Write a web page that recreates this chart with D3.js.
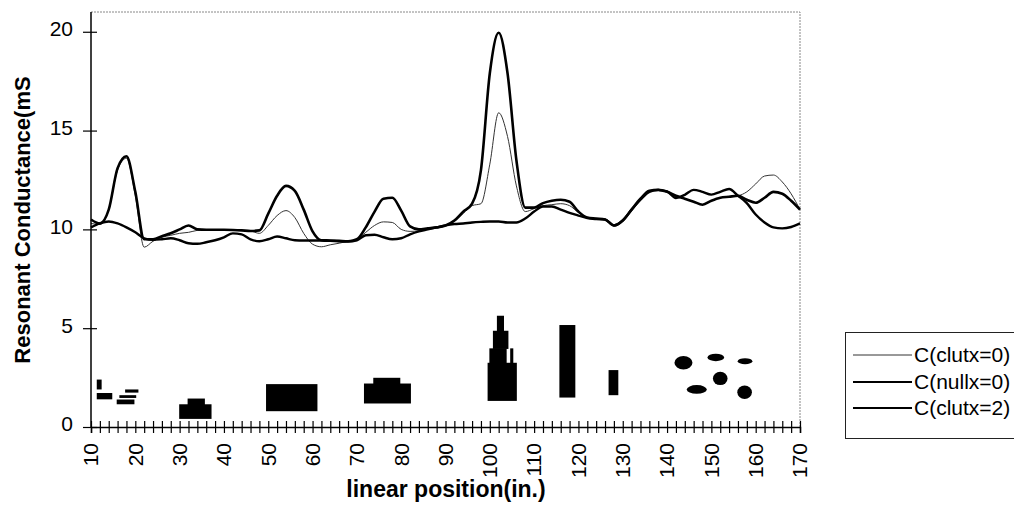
<!DOCTYPE html>
<html>
<head>
<meta charset="utf-8">
<script src="https://cdn.jsdelivr.net/npm/d3@7/dist/d3.min.js"></script>
<style>
  html, body { margin: 0; padding: 0; background: #fff; }
  svg { display: block; }
  text { font-family: "Liberation Sans", Arial, sans-serif; fill: #000; }
</style>
</head>
<body>
<svg id="chart" width="1014" height="512"></svg>
<script>
// ---------- data ----------
const xPos = d3.range(10, 171, 2);

const seriesNames = ["C(clutx=0)", "C(nullx=0)", "C(clutx=2)"];

const clutx0 = [
  10.3, 10.25, 11.0, 13.0, 13.6, 11.7, 9.1, 9.4, 9.6, 9.7,
  9.8, 9.85, 9.95, 9.98, 9.98, 9.98, 9.97, 9.95, 9.92, 9.8,
  10.2, 10.7, 10.95, 10.6, 9.8, 9.25, 9.12, 9.22, 9.3, 9.4,
  9.5, 9.85, 10.2, 10.38, 10.35, 10.0, 9.9, 9.92, 10.0, 10.1,
  10.2, 10.4, 10.8, 11.2, 11.3, 13.3, 15.9, 14.7, 12.2, 10.9,
  11.05, 11.2, 11.25, 11.3, 11.2, 10.85, 10.6, 10.55, 10.5, 10.2,
  10.45, 11.0, 11.55, 11.95, 12.0, 11.9, 11.7, 11.55, 11.4, 11.25,
  11.45, 11.6, 11.65, 11.7, 11.9, 12.3, 12.7, 12.75, 12.4, 11.8,
  11.0
];

const nullx0 = [
  10.5, 10.3, 11.0, 13.1, 13.7, 11.9, 9.5, 9.5, 9.65, 9.8,
  10.0, 10.2, 10.0, 9.98, 9.98, 9.98, 9.97, 9.95, 9.92, 9.95,
  10.8, 11.7, 12.2, 11.95, 11.0, 9.9, 9.45, 9.44, 9.42, 9.4,
  9.5, 10.1, 10.9, 11.55, 11.6, 10.95, 10.15, 10.0, 10.05, 10.1,
  10.2, 10.45, 10.9, 11.3, 13.0, 17.9, 19.95, 17.9, 13.5, 11.1,
  11.1, 11.33, 11.45, 11.5, 11.4, 10.9, 10.6, 10.55, 10.5, 10.2,
  10.45, 11.0, 11.55, 11.95, 12.0, 11.9, 11.7, 11.55, 11.4, 11.25,
  11.45, 11.6, 11.65, 11.7, 11.5, 11.35, 11.6, 11.9, 11.8, 11.45,
  11.0
];

const clutx2 = [
  10.1, 10.3, 10.4, 10.3, 10.1, 9.85, 9.55, 9.47, 9.5, 9.55,
  9.45, 9.3, 9.27, 9.35, 9.45, 9.6, 9.8, 9.75, 9.5, 9.4,
  9.5, 9.64, 9.55, 9.45, 9.44, 9.44, 9.43, 9.42, 9.4, 9.39,
  9.45, 9.7, 9.73, 9.6, 9.5, 9.55, 9.75, 9.9, 10.0, 10.1,
  10.2, 10.27, 10.3, 10.35, 10.38, 10.4, 10.4, 10.35, 10.35, 10.55,
  10.9, 11.16, 11.16, 11.0, 10.83, 10.7, 10.57, 10.52, 10.5, 10.2,
  10.45, 11.0, 11.5, 11.9, 12.0, 11.92, 11.59, 11.75, 12.0, 11.9,
  11.76, 11.9, 12.04, 11.7, 11.33, 10.75, 10.35, 10.1, 10.05, 10.12,
  10.3
];

// black target blocks drawn on the chart: [x0, x1, y0, y1]
const blockRects = [
  [11.3, 12.4, 1.9, 2.4],
  [11.3, 14.8, 1.4, 1.72],
  [15.8, 19.8, 1.15, 1.39],
  [16.4, 20.2, 1.47, 1.61],
  [17.7, 20.7, 1.74, 1.9],
  [29.9, 37.2, 0.41, 1.15],
  [31.8, 35.7, 1.1, 1.44],
  [49.5, 61.1, 0.8, 2.17],
  [71.6, 82.2, 1.19, 2.2],
  [73.7, 79.8, 2.15, 2.49],
  [99.5, 106.1, 1.32, 3.25],
  [99.9, 103.8, 3.2, 3.98],
  [104.6, 105.3, 3.2, 3.98],
  [100.7, 104.2, 3.95, 4.87],
  [101.6, 103.2, 4.85, 5.63],
  [115.7, 119.3, 1.49, 5.16],
  [126.8, 129.0, 1.61, 2.88]
];

// ellipses: [cx, cy, rx, ry] in data units
const blockEllipses = [
  [143.7, 3.25, 2.03, 0.34],
  [151.0, 3.52, 1.88, 0.19],
  [157.6, 3.33, 1.65, 0.15],
  [152.0, 2.46, 1.65, 0.34],
  [146.7, 1.9, 2.26, 0.22],
  [157.5, 1.76, 1.65, 0.34]
];

const xMajorTicks = d3.range(10, 171, 10);
const xMinorTicks = d3.range(10, 171, 2);
const yTicks = [0, 5, 10, 15, 20];

// ---------- chart ----------
const svg = d3.select("#chart");
const x = d3.scaleLinear().domain([10, 170]).range([91, 800]);
const y = d3.scaleLinear().domain([0, 21]).range([427, 12]);

svg.append("rect").attr("width", 1014).attr("height", 512).attr("fill", "#fff");

// frame top/right (light dotted)
svg.append("path")
  .attr("d", `M${x(10)},${y(21)}H${x(170)}V${y(0)}`)
  .attr("fill", "none").attr("stroke", "#888").attr("stroke-width", 1)
  .attr("stroke-dasharray", "2,1");

// blocks
svg.append("g").selectAll("rect").data(blockRects).join("rect")
  .attr("x", d => x(d[0])).attr("width", d => x(d[1]) - x(d[0]))
  .attr("y", d => y(d[3])).attr("height", d => y(d[2]) - y(d[3]))
  .attr("fill", "#000");
svg.append("g").selectAll("ellipse").data(blockEllipses).join("ellipse")
  .attr("cx", d => x(d[0])).attr("cy", d => y(d[1]))
  .attr("rx", d => x(d[0] + d[2]) - x(d[0]))
  .attr("ry", d => y(0) - y(d[3]))
  .attr("fill", "#000");

// lines
const line = d3.line().x((d, i) => x(xPos[i])).y(d => y(d)).curve(d3.curveMonotoneX);
const styles = [
  { data: clutx0, color: "#333", width: 1 },
  { data: nullx0, color: "#000", width: 2.6 },
  { data: clutx2, color: "#000", width: 2.4 }
];
styles.forEach(s => {
  svg.append("path").datum(s.data).attr("d", line)
    .attr("fill", "none").attr("stroke", s.color).attr("stroke-width", s.width)
    .attr("stroke-linejoin", "round");
});

// x axis
const xAxis = svg.append("g").attr("transform", `translate(0,${y(0)})`)
  .call(d3.axisBottom(x).tickValues(xMinorTicks).tickSize(6).tickFormat(""));
xAxis.select(".domain").attr("stroke", "#000").attr("stroke-width", 1.5);
xAxis.selectAll(".tick line").attr("y1", -6).attr("y2", 6).attr("stroke", "#000").attr("stroke-width", 1.2);
svg.append("g").selectAll("text").data(xMajorTicks).join("text")
  .attr("transform", d => `translate(${x(d)},443) rotate(-90)`)
  .attr("text-anchor", "end").attr("dy", "0.35em")
  .style("font-size", "21px")
  .text(d => d);

// y axis
const yAxis = svg.append("g").attr("transform", `translate(${x(10)},0)`)
  .call(d3.axisLeft(y).tickValues(yTicks).tickSize(6).tickFormat(""));
yAxis.select(".domain").attr("stroke", "#000").attr("stroke-width", 1.5)
  .attr("d", `M0,${y(21)}V${y(0)}`);
yAxis.selectAll(".tick line").attr("x1", -8).attr("x2", 6).attr("stroke", "#000").attr("stroke-width", 1.2);
svg.append("g").selectAll("text").data(yTicks).join("text")
  .attr("x", 73).attr("y", d => y(d) - 3)
  .attr("text-anchor", "end").attr("dy", "0.35em")
  .style("font-size", "21px")
  .text(d => d);

// titles
svg.append("text").attr("x", 446).attr("y", 497)
  .attr("text-anchor", "middle").style("font-size", "23px").style("font-weight", "bold")
  .text("linear position(in.)");
svg.append("text").attr("transform", "translate(22,220) rotate(-90)")
  .attr("text-anchor", "middle").attr("dy", "0.35em")
  .style("font-size", "22px").style("font-weight", "bold")
  .text("Resonant Conductance(mS");

// legend
const lg = svg.append("g");
lg.append("rect").attr("x", 845.5).attr("y", 332.5).attr("width", 200).attr("height", 106)
  .attr("fill", "none").attr("stroke", "#222").attr("stroke-width", 1);
const legendY = [355, 382, 408];
seriesNames.forEach((name, i) => {
  lg.append("line").attr("x1", 853).attr("x2", 912).attr("y1", legendY[i]).attr("y2", legendY[i])
    .attr("stroke", styles[i].color).attr("stroke-width", i === 0 ? 1 : 2.2);
  lg.append("text").attr("x", 914).attr("y", legendY[i]).attr("dy", "0.35em")
    .style("font-size", "21px").text(name);
});
</script>
</body>
</html>
